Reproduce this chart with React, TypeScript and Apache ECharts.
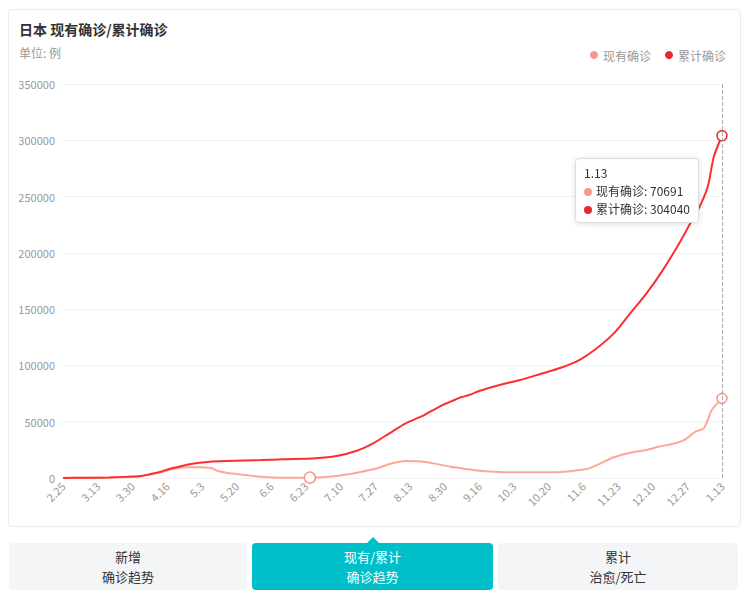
import React, { useEffect, useRef } from 'react';
import * as echarts from 'echarts';

const xLabels = ['2.25', '3.13', '3.30', '4.16', '5.3', '5.20', '6.6', '6.23', '7.10', '7.27', '8.13', '8.30', '9.16', '10.3', '10.20', '11.6', '11.23', '12.10', '12.27', '1.13'];
const labelStep = 17; // days between tick labels
const lastDay = 323;

// 累计确诊: day offset from 2.25, value
const cumDays = [0, 8, 23, 31, 38, 43, 48, 52, 57, 62, 67, 72, 80, 97, 108, 124, 134, 144, 152, 160, 168, 177, 185, 190, 195, 199, 204, 214, 224, 234, 244, 253, 260, 270, 278, 286, 294, 302, 307, 312, 316, 319, 323];
const cumValues = [0, 200, 500, 1000, 1800, 3500, 5600, 8000, 10000, 12200, 13600, 14500, 15100, 16000, 16600, 17500, 19500, 24200, 30800, 39700, 48600, 55900, 63900, 67800, 71700, 73700, 77300, 82600, 87000, 92400, 97900, 104800, 113000, 128500, 146200, 164000, 184700, 208400, 224700, 240900, 258700, 285300, 304040];

// 现有确诊
const curDays = [0, 8, 23, 31, 38, 43, 48, 52, 57, 62, 67, 73, 76, 80, 88, 97, 108, 121, 134, 144, 154, 160, 168, 177, 190, 199, 204, 214, 224, 234, 244, 253, 258, 270, 278, 286, 292, 300, 305, 310, 314, 316, 318, 323];
const curValues = [0, 100, 400, 900, 1600, 3200, 5200, 7100, 9200, 9500, 9500, 8600, 6200, 4700, 2900, 1200, 300, 300, 1800, 4700, 8600, 12400, 15100, 14500, 10000, 7700, 6500, 5300, 5000, 5000, 5300, 7100, 8600, 18400, 22500, 24900, 27800, 30800, 34400, 41100, 44100, 51500, 60400, 70691];

const markDay = 121;
const markValue = 300;

const seriesNames = ['现有确诊', '累计确诊'];
const seriesColors = ['#f9978a', '#e62a2d'];

const buttons = [
  ['新增', '确诊趋势'],
  ['现有/累计', '确诊趋势'],
  ['累计', '治愈/死亡'],
];

const FONT = "'Noto Sans CJK SC', 'Noto Sans', sans-serif";

export default function App() {
  const ref = useRef<HTMLDivElement>(null);

  useEffect(() => {
    const chart = echarts.init(ref.current!, null, { renderer: 'svg' });
    const dayLabel = (v: number) => xLabels[Math.round(v / labelStep)] ?? '';
    const makeSeries = (idx: number, days: number[], values: number[]) => ({
      name: seriesNames[idx],
      type: 'line',
      data: days.map((d, i) => [d, values[i]]),
      smooth: 0.3,
      showSymbol: false,
      symbol: 'emptyCircle',
      symbolSize: 10,
      color: seriesColors[idx],
      lineStyle: { width: 2, color: seriesColors[idx] },
      itemStyle: { color: seriesColors[idx], borderWidth: 1.5 },
      emphasis: {
        scale: false,
        itemStyle: { color: '#fff', borderColor: seriesColors[idx], borderWidth: 1.5 },
        lineStyle: { width: 2 },
      },
    });
    chart.setOption({
      animation: false,
      textStyle: { fontFamily: FONT },
      title: {
        text: '日本 现有确诊/累计确诊',
        subtext: '单位: 例',
        left: 14,
        top: 17,
        itemGap: 11,
        textStyle: { fontSize: 14, fontWeight: 'bold', color: '#333', fontFamily: FONT },
        subtextStyle: { fontSize: 12, color: '#999', fontFamily: FONT },
      },
      legend: {
        data: seriesNames,
        right: 17,
        top: 44,
        icon: 'circle',
        itemWidth: 8,
        itemHeight: 8,
        itemGap: 14,
        textStyle: { color: '#999', fontSize: 12, fontFamily: FONT },
      },
      grid: { left: 63, right: 26, top: 84, bottom: 52 },
      tooltip: {
        trigger: 'axis',
        triggerOn: 'none',
        alwaysShowContent: true,
        position: [575, 158],
        backgroundColor: '#fff',
        borderColor: '#ddd',
        borderWidth: 1,
        padding: [5, 8, 4, 8],
        extraCssText: 'box-shadow: 0 1px 6px rgba(0,0,0,0.12); border-radius: 4px;',
        textStyle: { fontSize: 12, color: '#333', fontFamily: FONT },
        axisPointer: {
          type: 'line',
          snap: true,
          lineStyle: { color: '#aaa', type: 'dashed', width: 1 },
        },
        formatter: (params: any[]) => {
          const head = `<div style="line-height:18px">${dayLabel(params[0].value[0])}</div>`;
          const rows = params
            .map(
              (p) =>
                `<div style="line-height:18px"><span style="display:inline-block;width:8px;height:8px;border-radius:50%;background:${p.color};margin-right:4px;vertical-align:0px"></span>${p.seriesName}: ${p.value[1]}</div>`
            )
            .join('');
          return head + rows;
        },
      },
      xAxis: {
        type: 'value',
        min: 0,
        max: lastDay,
        interval: labelStep,
        axisLine: { show: false },
        axisTick: { show: false },
        splitLine: { show: false },
        axisLabel: {
          rotate: 45,
          margin: 6,
          color: '#999',
          fontSize: 11,
          fontFamily: FONT,
          formatter: (v: number) => dayLabel(v),
        },
      },
      yAxis: {
        type: 'value',
        min: 0,
        max: 350000,
        interval: 50000,
        axisLine: { show: false },
        axisTick: { show: false },
        splitLine: { lineStyle: { color: '#f3f3f3' } },
        axisLabel: {
          color: '#999',
          fontSize: 11,
          margin: 8,
          fontFamily: FONT,
          formatter: (v: number) => String(v),
        },
      },
      series: [
        {
          ...makeSeries(0, curDays, curValues),
          markPoint: {
            symbol: 'circle',
            symbolSize: 11,
            label: { show: false },
            itemStyle: { color: '#fff', borderColor: seriesColors[0], borderWidth: 1.5 },
            data: [{ coord: [markDay, markValue] }],
          },
        },
        makeSeries(1, cumDays, cumValues),
      ],
    });
    chart.dispatchAction({ type: 'showTip', seriesIndex: 1, dataIndex: cumDays.length - 1 });
    return () => chart.dispose();
  }, []);

  const btnLefts = [9, 252, 498];
  const btnWidths = [238, 241, 240];

  return (
    <div style={{ position: 'fixed', left: 0, top: 0, width: 748, height: 611, background: '#fff', fontFamily: FONT }}>
      <div
        style={{
          position: 'absolute',
          left: 8,
          top: 9,
          width: 731,
          height: 516,
          border: '1px solid #ebebeb',
          borderRadius: 4,
        }}
      />
      <div ref={ref} style={{ position: 'absolute', left: 0, top: 0, width: 748, height: 530 }} />
      {buttons.map((b, i) => {
        const active = i === 1;
        return (
          <div
            key={i}
            style={{
              position: 'absolute',
              left: btnLefts[i],
              top: 543,
              width: btnWidths[i],
              height: 47,
              borderRadius: 4,
              background: active ? '#00bfc9' : '#f4f5f7',
              color: active ? '#fff' : '#333',
              fontSize: 13,
              lineHeight: '20px',
              textAlign: 'center',
              display: 'flex',
              flexDirection: 'column',
              justifyContent: 'center',
            }}
          >
            <div>{b[0]}</div>
            <div>{b[1]}</div>
          </div>
        );
      })}
      <div
        style={{
          position: 'absolute',
          left: 367,
          top: 537,
          width: 0,
          height: 0,
          borderLeft: '6px solid transparent',
          borderRight: '6px solid transparent',
          borderBottom: '6px solid #00bfc9',
        }}
      />
    </div>
  );
}
